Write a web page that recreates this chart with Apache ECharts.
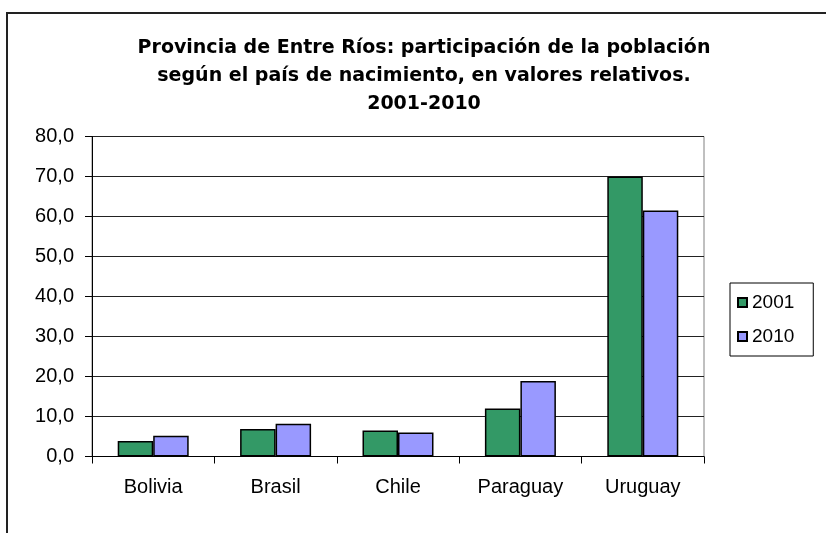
<!DOCTYPE html>
<html>
<head>
<meta charset="utf-8">
<script src="https://cdn.jsdelivr.net/npm/echarts@6/dist/echarts.min.js"></script>
<style>html,body{margin:0;padding:0;background:#fff;}#c{width:826px;height:533px;}</style>
</head>
<body>
<div id="c"></div>
<script>
var categories = ['Bolivia', 'Brasil', 'Chile', 'Paraguay', 'Uruguay'];
var values2001 = [3.9, 6.9, 6.5, 12.0, 70.0];
var values2010 = [5.2, 8.2, 6.0, 18.9, 61.5];
var seriesNames = ['2001', '2010'];
var titleText = 'Provincia de Entre Ríos: participación de la población\nsegún el país de nacimiento, en valores relativos.\n2001-2010';

var FONT = '"Liberation Sans", Arial, sans-serif';
var chart = echarts.init(document.getElementById('c'), null, {renderer: 'canvas'});
chart.setOption({
  animation: false,
  backgroundColor: '#fff',
  title: {
    text: titleText,
    left: 419,
    textAlign: 'center',
    top: 29,
    textStyle: {fontFamily: '"DejaVu Sans", sans-serif', fontSize: 19, fontWeight: 'bold', color: '#000', lineHeight: 28}
  },
  graphic: [{
    type: 'rect', shape: {x: 7, y: 13, width: 900, height: 600},
    style: {fill: 'none', stroke: '#222', lineWidth: 2}, silent: true, z: 100
  }],
  legend: {
    orient: 'vertical',
    left: 730, top: 283,
    padding: [10, 19, 10, 7],
    itemWidth: 9, itemHeight: 9, itemGap: 15,
    icon: 'rect',
    borderColor: '#000', borderWidth: 1,
    textStyle: {fontFamily: FONT, fontSize: 19, color: '#000'},
    data: seriesNames
  },
  grid: {
    left: 92, right: 122, top: 136.5, bottom: 76.5,
    show: true, borderColor: '#808080', borderWidth: 1, backgroundColor: 'transparent'
  },
  xAxis: {
    type: 'category', data: categories,
    axisLine: {lineStyle: {color: '#000', width: 1}},
    axisTick: {show: true, length: 7, lineStyle: {color: '#000'}},
    axisLabel: {fontFamily: FONT, fontSize: 20, color: '#000', margin: 21}
  },
  yAxis: {
    type: 'value', min: 0, max: 80, interval: 10,
    axisLine: {show: true, lineStyle: {color: '#000', width: 1}},
    axisTick: {show: true, length: 7, lineStyle: {color: '#000'}},
    splitLine: {lineStyle: {color: '#222', width: 1}},
    axisLabel: {fontFamily: FONT, fontSize: 20, color: '#000', margin: 18,
      formatter: function (v) { return v.toFixed(1).replace('.', ','); }}
  },
  series: [{
    name: seriesNames[0], type: 'bar', data: values2001,
    barGap: '0%', barCategoryGap: '42%',
    itemStyle: {color: '#339966', borderColor: '#000', borderWidth: 1.5}
  }, {
    name: seriesNames[1], type: 'bar', data: values2010,
    barGap: '0%', barCategoryGap: '42%',
    itemStyle: {color: '#9999FF', borderColor: '#000', borderWidth: 1.5}
  }]
});
</script>
</body>
</html>
